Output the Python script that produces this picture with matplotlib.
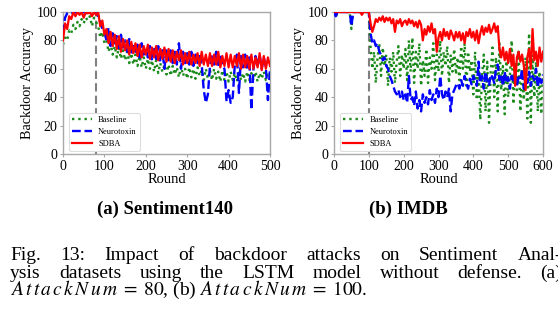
import matplotlib
matplotlib.use('Agg')
import matplotlib.pyplot as plt

plt.rcParams['font.family'] = ['Liberation Serif', 'DejaVu Serif']
plt.rcParams['mathtext.fontset'] = 'stix'

# ---------------- data ----------------
s140_rounds = list(range(0, 501, 5))
s140_sdba = [80, 92, 88, 97,
             95, 100, 97, 100, 98, 100, 96, 100, 99, 100, 97, 100,
             98,
             100, 90, 94, 84,
             88, 78, 86, 76, 84, 74, 83, 72, 81, 73,
             80, 70, 79, 71, 78, 69, 77, 68, 76, 70,
             77, 67, 75, 68, 76, 66, 74, 67, 75, 65,
             74, 65, 73, 64, 72, 66, 73, 63, 71, 64,
             72, 63, 70, 64, 71, 62, 72, 63, 70, 62,
             71, 62, 70, 63, 72, 61, 69, 62, 71, 61,
             70, 61, 69, 62, 71, 60, 70, 61, 69, 60,
             70, 60, 68, 61, 71, 59, 69, 60, 68, 62]
s140_neuro = [85, 96, 99, 100,
              100, 99, 100, 100, 99, 100, 100, 99, 100, 100, 99, 100,
              100,
              97, 93, 88, 86,
              80, 89, 76, 85, 78, 83, 73, 84, 75, 80,
              72, 81, 70, 78, 72, 77, 68, 78, 70, 75,
              68, 76, 66, 74, 67, 76, 65, 73, 60, 74,
              66, 73, 64, 72, 63, 78, 60, 72, 64, 71,
              63, 72, 62, 70, 64, 71, 63, 45, 36, 42,
              62, 70, 63, 72, 61, 70, 62, 60, 37, 45,
              36, 40, 63, 70, 43, 69, 61, 70, 60, 68,
              31, 60, 69, 62, 70, 60, 68, 61, 38, 60]
s140_base = [77, 82, 80, 87,
             85, 91, 88, 93, 90, 95, 92, 96, 94, 97, 90, 96,
             93,
             90, 82, 86, 78,
             80, 72, 78, 70, 76, 68, 75, 67, 73, 66,
             72, 64, 71, 63, 70, 62, 69, 61, 68, 60,
             67, 60, 66, 58, 66, 57, 64, 58, 63, 56,
             63, 55, 62, 56, 61, 54, 62, 55, 60, 53,
             61, 54, 60, 53, 61, 55, 59, 52, 60, 53,
             59, 52, 60, 53, 58, 51, 59, 52, 58, 51,
             58, 52, 57, 51, 59, 52, 57, 51, 58, 52,
             57, 52, 58, 51, 57, 53, 58, 52, 56, 54]

imdb_rounds = list(range(0, 601, 5))
imdb_sdba = [100, 100, 100, 100, 100, 100, 100, 100, 100, 100,
             100, 100, 100, 100, 100, 100, 98, 100, 100, 100,
             100,
             92, 86, 90, 95, 93, 96, 94, 97, 93, 96,
             94, 96, 92, 95, 86, 94, 92, 95, 90, 93,
             94, 91, 95, 92, 94, 90, 93, 89, 94, 91,
             80, 88, 84, 90, 86, 92, 85, 88, 72, 82,
             86, 80, 88, 83, 86, 81, 87, 84, 80, 86,
             82, 86, 80, 85, 78, 86, 83, 88, 82, 86,
             80, 87, 78, 85, 90, 84, 89, 86, 91, 85,
             88, 92, 86, 90, 74, 68, 75, 66, 72, 64,
             74, 62, 70, 48, 68, 72, 65, 70, 62, 45,
             68, 74, 60, 88, 66, 72, 62, 75, 65, 72]
imdb_neuro = [100, 97, 100, 100, 100, 100, 100, 100, 100, 100,
              90, 100, 100, 100, 100, 100, 100, 100, 100, 100,
              100,
              85, 78, 80, 76, 78, 72, 70, 66, 68, 62,
              60, 55, 52, 48, 44, 42, 45, 40, 44, 38,
              42, 36, 55, 38, 40, 34, 44, 32, 38, 30,
              42, 36, 40, 35, 45, 38, 42, 36, 46, 40,
              55, 42, 38, 44, 40, 46, 30, 42, 45, 48,
              50, 46, 52, 48, 55, 50, 46, 53, 49, 55,
              52, 48, 65, 50, 55, 46, 58, 52, 48, 56,
              54, 50, 60, 63, 52, 56, 48, 58, 50, 54,
              46, 55, 50, 58, 48, 54, 52, 60, 46, 56,
              50, 58, 48, 55, 52, 60, 47, 55, 50, 56]
imdb_base = [99, 96, 100, 100, 100, 100, 100, 100, 100, 100,
             88, 100, 100, 100, 100, 100, 100, 100, 100, 100,
             100,
             75, 60, 72, 50, 68, 78, 55, 75, 62, 70,
             48, 68, 58, 72, 50, 65, 76, 55, 70, 60,
             74, 52, 80, 58, 82, 50, 72, 60, 78, 48,
             66, 55, 74, 50, 68, 60, 78, 52, 70, 58,
             80, 55, 72, 62, 76, 50, 70, 58, 74, 56,
             68, 52, 76, 60, 78, 48, 72, 58, 66, 42,
             72, 38, 60, 24, 55, 70, 30, 65, 22, 58,
             75, 40, 68, 30, 78, 45, 62, 28, 70, 40,
             55, 80, 35, 65, 45, 72, 30, 60, 38, 68,
             25, 85, 22, 70, 40, 65, 30, 58, 28, 55]

series_labels = ['Baseline', 'Neurotoxin', 'SDBA']
y_ticks = [0, 20, 40, 60, 80, 100]
s140_xticks = [0, 100, 200, 300, 400, 500]
imdb_xticks = [0, 100, 200, 300, 400, 500, 600]
attack_start = [80, 100]
sub_captions = ['(a) Sentiment140', '(b) IMDB']
caption_line1 = ['Fig.', '13:', 'Impact', 'of', 'backdoor', 'attacks', 'on', 'Sentiment', 'Anal-']
caption_line2 = ['ysis', 'datasets', 'using', 'the', 'LSTM', 'model', 'without', 'defense.', '(a)']
caption_line3 = (r'$A\,t\,t\,a\,c\,k\,N\,u\,m\;=\;80$, (b) '
                 r'$A\,t\,t\,a\,c\,k\,N\,u\,m\;=\;100$.')

# ---------------- figure ----------------
W, H = 558, 323
fig = plt.figure(figsize=(W / 100, H / 100), dpi=100)
fig.patch.set_facecolor('white')


def px_axes(l, t, r, b):
    return fig.add_axes([l / W, 1 - b / H, (r - l) / W, (b - t) / H])


ax1 = px_axes(63, 12, 270, 154)
ax2 = px_axes(334, 12, 543, 154)

spine_col = '#a8a8a8'
for ax, rounds, base, neuro, sdba, xt, xs in [
        (ax1, s140_rounds, s140_base, s140_neuro, s140_sdba, s140_xticks, attack_start[0]),
        (ax2, imdb_rounds, imdb_base, imdb_neuro, imdb_sdba, imdb_xticks, attack_start[1])]:
    ax.axvline(xs, color='#808080', ls=(0, (4, 2)), lw=1.5, zorder=1)
    ax.plot(rounds, base, ls=':', color='#1a8a1a', lw=1.7, label=series_labels[0], zorder=2)
    ax.plot(rounds, neuro, ls='--', color='#0000ff', lw=1.7, label=series_labels[1], zorder=3)
    ax.plot(rounds, sdba, ls='-', color='#ff0000', lw=1.6, label=series_labels[2], zorder=4)
    ax.set_xlim(xt[0], xt[-1])
    ax.set_ylim(0, 100)
    ax.set_xticks(xt)
    ax.set_yticks(y_ticks)
    ax.tick_params(axis='both', labelsize=10, length=2.5, width=0.8, color=spine_col, pad=1.5)
    for s in ax.spines.values():
        s.set_color(spine_col)
        s.set_linewidth(1.0)
    ax.set_xlabel('Round', fontsize=10.5, labelpad=0)
    ax.set_ylabel('Backdoor Accuracy', fontsize=10.2, labelpad=2)
    leg = ax.legend(loc='lower left', fontsize=6.0, handlelength=2.4, labelspacing=0.45,
                    borderaxespad=0.4, framealpha=1, fancybox=True, borderpad=0.35,
                    handletextpad=0.7, bbox_to_anchor=(0.015, 0.0))
    leg.get_frame().set_edgecolor('#dddddd')
    leg.get_frame().set_linewidth(0.8)

# sub-captions
fig.text(165 / W, 1 - 214 / H, sub_captions[0], fontsize=13.5, fontweight='bold',
         ha='center', va='baseline')
fig.text(408 / W, 1 - 214 / H, sub_captions[1], fontsize=13.5, fontweight='bold',
         ha='center', va='baseline')

# caption (justified lines)
renderer = fig.canvas.get_renderer()
cap_size = 14.0


def justify(words, x0, x1, ybase):
    texts = [fig.text(0, 1 - ybase / H, w, fontsize=cap_size, ha='left', va='baseline')
             for w in words]
    widths = [t.get_window_extent(renderer).width for t in texts]
    gap = (x1 - x0 - sum(widths)) / (len(words) - 1)
    x = x0
    for t, w in zip(texts, widths):
        t.set_x(x / W)
        x += w + gap


justify(caption_line1, 10, 562, 260)
justify(caption_line2, 10, 562, 277.5)
fig.text(10 / W, 1 - 295 / H, caption_line3, fontsize=cap_size, ha='left', va='baseline')

fig.savefig('out.png', dpi=100, facecolor='white')
